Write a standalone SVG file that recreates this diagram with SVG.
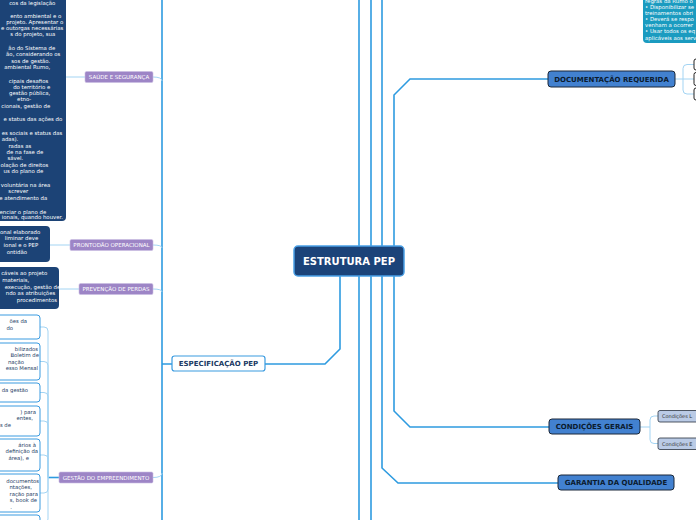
<svg xmlns="http://www.w3.org/2000/svg" width="696" height="520" viewBox="0 0 696 520">
<style>
.main{fill:none;stroke:#2e9be0;stroke-width:1.6}
.thin{fill:none;stroke:#a3d4f3;stroke-width:1}
.dark{fill:#1c4376}
.dt{font-family:"DejaVu Sans",sans-serif;font-size:5.4px;fill:#ffffff;text-anchor:end}
.wbox{fill:#ffffff;stroke:#3a9be0;stroke-width:1}
.wt{font-family:"DejaVu Sans",sans-serif;font-size:5.3px;fill:#1b3a63;text-anchor:end}
.purple{fill:#9d85c6;stroke:#c9bde3;stroke-width:0.6}
.pt{font-family:"DejaVu Sans",sans-serif;font-size:5.5px;fill:#ffffff;text-anchor:middle}
.blue{fill:#4281d0;stroke:#1a2738;stroke-width:1}
.bt{font-family:"DejaVu Sans",sans-serif;font-size:7px;font-weight:bold;fill:#0b1b2e;text-anchor:middle}
.gray{fill:#bacbe6;stroke:#28313d;stroke-width:0.8}
.gt{font-family:"DejaVu Sans",sans-serif;font-size:5px;fill:#333333}
.tt{font-family:"DejaVu Sans",sans-serif;font-size:5.4px;fill:#ffffff}
</style>
<rect width="696" height="520" fill="#ffffff"/>
<g id="connectors">
<path class="main" d="M359,246 V0 M359,276 V520 M371,246 V0 M371,276 V520 M382,246 V0"/>
<path class="main" d="M382,276 V468 L398,483 H558"/>
<path class="main" d="M394,246 V95 L410,79 H548"/>
<path class="main" d="M394,276 V411 L410,427 H549"/>
<path class="main" d="M340,276 V349 L325,364 H265"/>
<path class="main" d="M172,364 H162 M162,364 V0 M162,364 V520"/>
<path class="thin" d="M162,81 Q162,77 153,77"/>
<path class="thin" d="M162,248 Q162,245 153,245"/>
<path class="thin" d="M162,292 Q162,289 153,289"/>
<path class="thin" d="M162,473 Q162,477.5 153,477.5"/>
<path class="thin" d="M85,77 H66 M70,245 H50 M79,289 H59"/>
<path class="main" d="M59,477.5 H48"/>
<path class="thin" d="M48,477.5 V331 Q48,327 44,327 H40"/>
<path class="thin" d="M48,477.5 V365.5 Q48,361.5 44,361.5 H40"/>
<path class="thin" d="M48,477.5 V396.5 Q48,392.5 44,392.5 H40"/>
<path class="thin" d="M48,477.5 V425 Q48,421 44,421 H40"/>
<path class="thin" d="M48,477.5 V459 Q48,455 44,455 H40"/>
<path class="thin" d="M48,477.5 V489 Q48,493 44,493 H40"/>
<path class="thin" d="M48,477.5 V519 Q48,523 44,523 H40"/>
<path class="thin" d="M675,79 H683 M683,79 V68.5 Q683,64.5 687,64.5 H694 M683,79 H694 M683,79 V90 Q683,94 687,94 H694"/>
<path class="thin" d="M640,427 H650 M650,427 V420 Q650,416 654,416 H658 M650,427 V439.5 Q650,443.5 654,443.5 H658"/>
</g>
<g id="root">
<rect x="294" y="246" width="110" height="30" rx="4" fill="#1b4379" stroke="#4aa0e6" stroke-width="1.5"/>
<text x="349" y="264.6" font-family="DejaVu Sans, sans-serif" font-size="10" font-weight="bold" fill="#ffffff" text-anchor="middle">ESTRUTURA PEP</text>
</g>
<g id="especificacao">
<rect x="172" y="356" width="93" height="15" rx="2.5" fill="#ffffff" stroke="#3a9be0" stroke-width="1.2"/>
<text x="218.5" y="366" font-family="DejaVu Sans, sans-serif" font-size="7" font-weight="bold" fill="#1b3a63" text-anchor="middle">ESPECIFICAÇÃO PEP</text>
</g>
<g id="saude">
<rect class="purple" x="85" y="71.5" width="68" height="11" rx="1.5"/>
<text class="pt" x="119" y="79">SAÚDE E SEGURANÇA</text>
</g>
<g id="saude-texto">
<rect class="dark" x="-10" y="-10" width="76" height="231" rx="4"/>
<text class="dt">
<tspan x="57" y="5.3">cos da legislação</tspan>
<tspan x="63" y="17.5">ento ambiental e o</tspan>
<tspan x="65" y="23.8">projeto. Apresentar o</tspan>
<tspan x="65" y="30.1">e outorgas necessárias</tspan>
<tspan x="57" y="36.3">s do projeto, sua</tspan>
<tspan x="57" y="50.1">ão do Sistema de</tspan>
<tspan x="62" y="56.3">ão, considerando os</tspan>
<tspan x="52" y="62.5">sos de gestão.</tspan>
<tspan x="52" y="68.6">ambiental Rumo,</tspan>
<tspan x="50" y="82.5">cipais desafios</tspan>
<tspan x="52" y="88.8">do território e</tspan>
<tspan x="52" y="95">gestão pública,</tspan>
<tspan x="33" y="101.2">etno-</tspan>
<tspan x="52" y="107.8">cionais, gestão de</tspan>
<tspan x="64" y="121.3">e status das ações do</tspan>
<tspan x="64" y="134.8">es sociais e status das</tspan>
<tspan x="20" y="141.1">adas).</tspan>
<tspan x="33" y="147.8">radas as</tspan>
<tspan x="45" y="154">de na fase de</tspan>
<tspan x="25" y="160.3">sável.</tspan>
<tspan x="50" y="166.8">olação de direitos</tspan>
<tspan x="45" y="172.8">us do plano de</tspan>
<tspan x="52" y="186.8">voluntária na área</tspan>
<tspan x="30" y="192.8">screver</tspan>
<tspan x="49" y="199.8">e atendimento da</tspan>
<tspan x="48" y="213.8">enciar o plano de</tspan>
<tspan x="63" y="219.3">ionais, quando houver.</tspan>
</text>
</g>
<g id="prontidao">
<rect class="purple" x="70" y="239.5" width="83" height="11" rx="1.5"/>
<text class="pt" x="111.5" y="247">PRONTODÃO OPERACIONAL</text>
</g>
<g id="prontidao-texto">
<rect class="dark" x="-10" y="226" width="60" height="36" rx="4"/>
<text class="dt">
<tspan x="42" y="233.8">onal elaborado</tspan>
<tspan x="40" y="240.3">liminar deve</tspan>
<tspan x="40" y="246.8">ional e o PEP</tspan>
<tspan x="27" y="253.8">ontidão</tspan>
</text>
</g>
<g id="prevencao">
<rect class="purple" x="79" y="283.5" width="74" height="11" rx="1.5"/>
<text class="pt" x="116" y="291">PREVENÇÃO DE PERDAS</text>
</g>
<g id="prevencao-texto">
<rect class="dark" x="-10" y="267" width="69" height="42" rx="4"/>
<text class="dt">
<tspan x="49" y="275.3">cáveis ao projeto</tspan>
<tspan x="31" y="281.8">materiais,</tspan>
<tspan x="62" y="288.8">execução, gestão de</tspan>
<tspan x="57" y="295">ndo as atribuições</tspan>
<tspan x="57" y="301.8">procedimentos</tspan>
</text>
</g>
<g id="gestao">
<rect class="purple" x="59" y="472" width="94" height="11" rx="1.5"/>
<text class="pt" x="106" y="479.5">GESTÃO DO EMPREENDIMENTO</text>
</g>
<g id="gestao-a">
<rect class="wbox" x="-10" y="315" width="50" height="24" rx="3"/>
<text class="wt"><tspan x="27" y="322.6">ões da</tspan><tspan x="13" y="329.6">do</tspan></text>
</g>
<g id="gestao-b">
<rect class="wbox" x="-10" y="343" width="50" height="37" rx="3"/>
<text class="wt"><tspan x="38" y="350.6">bilizados</tspan><tspan x="39" y="357.1">Boletim de</tspan><tspan x="24" y="363.6">nação</tspan><tspan x="38" y="370.1">esso Mensal</tspan></text>
</g>
<g id="gestao-c">
<rect class="wbox" x="-10" y="383" width="50" height="19" rx="3"/>
<text class="wt"><tspan x="28" y="391.6">da gestão</tspan></text>
</g>
<g id="gestao-d">
<rect class="wbox" x="-10" y="406" width="50" height="30" rx="3"/>
<text class="wt"><tspan x="36" y="413.6">) para</tspan><tspan x="33" y="420.1">entes,</tspan><tspan x="11" y="426.6">s de</tspan></text>
</g>
<g id="gestao-e">
<rect class="wbox" x="-10" y="439" width="50" height="32" rx="3"/>
<text class="wt"><tspan x="36" y="446.6">ários à</tspan><tspan x="38" y="453.1">definição da</tspan><tspan x="29" y="459.6">área), e</tspan></text>
</g>
<g id="gestao-f">
<rect class="wbox" x="-10" y="474" width="50" height="38" rx="3"/>
<text class="wt"><tspan x="39" y="482.6">documentos</tspan><tspan x="32" y="489.1">ntações,</tspan><tspan x="38" y="495.6">ração para</tspan><tspan x="37" y="502.1">s, book de</tspan><tspan x="12" y="508.6">.</tspan></text>
</g>
<g id="gestao-g">
<rect class="wbox" x="-10" y="515" width="50" height="20" rx="3"/>
</g>
<g id="documentacao">
<rect class="blue" x="548" y="71" width="127" height="16" rx="3"/>
<text class="bt" x="611.5" y="81.6">DOCUMENTAÇÃO REQUERIDA</text>
</g>
<g id="doc-1"><rect x="694" y="59" width="12" height="11" rx="2" fill="#ffffff" stroke="#222222" stroke-width="1"/></g>
<g id="doc-2"><rect x="694" y="72.5" width="12" height="13" rx="2" fill="#ffffff" stroke="#222222" stroke-width="1"/></g>
<g id="doc-3"><rect x="694" y="88" width="12" height="12" rx="2" fill="#ffffff" stroke="#222222" stroke-width="1"/></g>
<g id="condicoes">
<rect class="blue" x="549" y="419" width="91" height="15" rx="3"/>
<text class="bt" x="594.5" y="429">CONDIÇÕES GERAIS</text>
</g>
<g id="condicoes-l">
<rect class="gray" x="658" y="410.5" width="45" height="11.5" rx="2"/>
<text class="gt" x="662" y="418">Condições L</text>
</g>
<g id="condicoes-e">
<rect class="gray" x="658" y="438" width="45" height="11.5" rx="2"/>
<text class="gt" x="662" y="445.5">Condições E</text>
</g>
<g id="garantia">
<rect class="blue" x="558" y="475" width="116" height="15" rx="3"/>
<text class="bt" x="616" y="485">GARANTIA DA QUALIDADE</text>
</g>
<g id="seguranca-texto">
<rect x="643" y="-10" width="70" height="53" rx="4" fill="#1b9bc0"/>
<text class="tt">
<tspan x="645" y="2.6">regras da Rumo o</tspan>
<tspan x="645" y="8.5">• Disponibilizar se</tspan>
<tspan x="645" y="14.7">treinamentos obri</tspan>
<tspan x="645" y="20.9">• Deverá se respo</tspan>
<tspan x="645" y="27.1">venham a ocorrer</tspan>
<tspan x="645" y="33.3">• Usar todos os eq</tspan>
<tspan x="645" y="39.6">aplicáveis aos serv</tspan>
</text>
</g>
</svg>
